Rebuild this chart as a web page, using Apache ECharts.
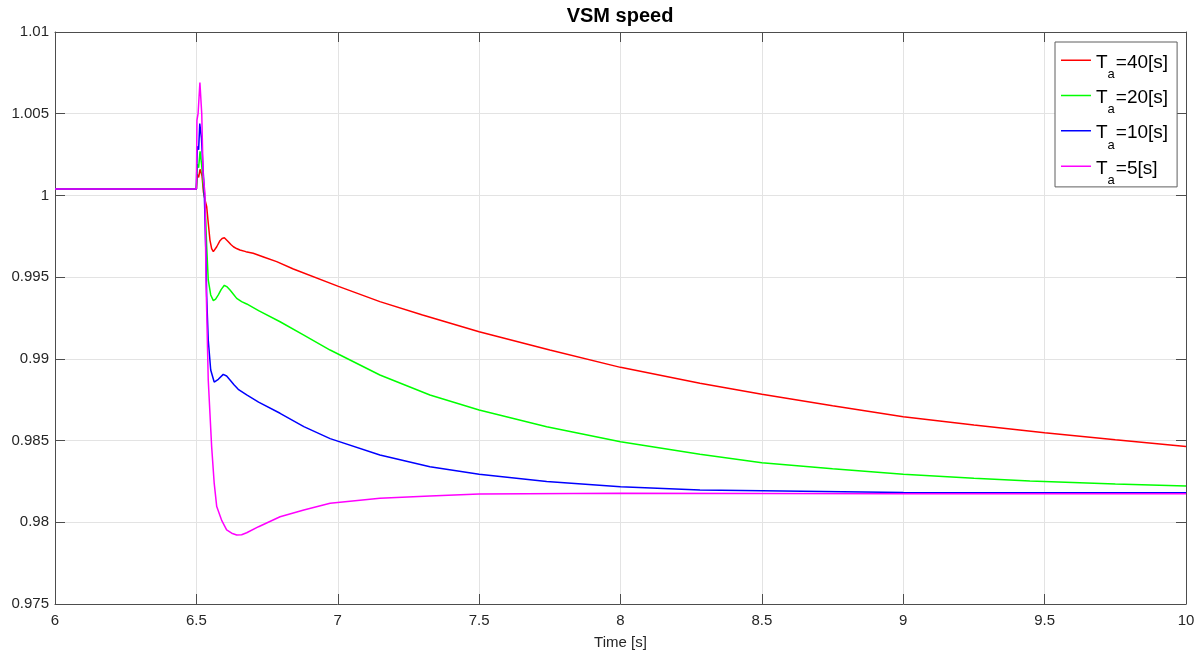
<!DOCTYPE html>
<html>
<head>
<meta charset="utf-8">
<title>VSM speed</title>
<script src="https://cdn.jsdelivr.net/npm/echarts@6/dist/echarts.min.js"></script>
<style>
  html, body { margin: 0; padding: 0; background: #fff; }
  #chart { width: 1204px; height: 653px; }
</style>
</head>
<body>
<div id="chart"></div>
<script>
// Virtual synchronous machine speed (p.u.) after a load step at t = 6.5 s,
// for four inertia constants Ta.
const seriesNames = ['40', '20', '10', '5'];
const seriesColors = ['#ff0000', '#00ff00', '#0000ff', '#ff00ff'];

const time40 = [6, 6.5, 6.503, 6.508, 6.513, 6.52, 6.525, 6.531, 6.5365, 6.542, 6.548, 6.554, 6.56, 6.566, 6.572,
  6.5835, 6.591, 6.599, 6.606, 6.613, 6.622, 6.631, 6.642, 6.654, 6.675, 6.701, 6.74, 6.784, 6.843,
  7.0, 7.149, 7.3, 7.5, 7.75, 8, 8.281, 8.5, 8.75, 9, 9.25, 9.5, 9.75, 10];
const speed40 = [1.0004, 1.0004, 1.0013, 1.0011, 1.0016, 1.0012, 1.0002, 0.9997, 0.99931, 0.99831, 0.99727, 0.99675, 0.99656, 0.99662, 0.99686,
  0.99723, 0.99736, 0.99741, 0.99733, 0.99717, 0.99700, 0.99686, 0.99675, 0.99666, 0.99656, 0.99646, 0.99622, 0.99595, 0.99550,
  0.99445, 0.99350, 0.99268, 0.99166, 0.99054, 0.98948, 0.98851, 0.98783, 0.98713, 0.98646, 0.98595, 0.98548, 0.98505, 0.98463];

const time20 = [6, 6.5, 6.503, 6.508, 6.513, 6.519, 6.525, 6.5305, 6.5365, 6.542, 6.5507, 6.56, 6.568, 6.5776, 6.588,
  6.599, 6.609, 6.619, 6.631, 6.6426, 6.66, 6.678, 6.72, 6.796, 6.88, 6.973, 7.149, 7.326, 7.5, 7.739, 8,
  8.281, 8.5, 8.75, 9, 9.25, 9.448, 9.75, 10];
const speed20 = [1.0004, 1.0004, 1.0019, 1.0017, 1.0027, 1.0018, 1.0005, 0.99972, 0.99686, 0.99483, 0.99391, 0.99356, 0.99365, 0.99391, 0.99425,
  0.99450, 0.99440, 0.99421, 0.99395, 0.99370, 0.99350, 0.99336, 0.99295, 0.99227, 0.99145, 0.99054, 0.98901, 0.98779, 0.98687, 0.98585, 0.98493,
  0.98416, 0.98365, 0.98327, 0.98294, 0.98270, 0.98253, 0.98235, 0.98222];

const time10 = [6, 6.5, 6.503, 6.508, 6.512, 6.518, 6.524, 6.5275, 6.533, 6.5365, 6.542, 6.5507, 6.563, 6.5776, 6.595,
  6.607, 6.619, 6.633, 6.648, 6.678, 6.72, 6.796, 6.88, 6.973,
  7.149, 7.326, 7.5, 7.739, 8, 8.281, 8.5, 9, 9.448, 10];
const speed10 = [1.0004, 1.0004, 1.0030, 1.0028, 1.0044, 1.0035, 1.0015, 1.00048, 0.99686, 0.99380, 0.99115, 0.98932, 0.98858, 0.98875, 0.98905,
  0.98895, 0.98871, 0.98842, 0.98814, 0.98779, 0.98735, 0.98667, 0.98585, 0.98512,
  0.98412, 0.98340, 0.98294, 0.98249, 0.98218, 0.98198, 0.98193, 0.98183, 0.98181, 0.98181];

const time5 = [6, 6.5, 6.502, 6.506, 6.5125, 6.519, 6.524, 6.5305, 6.534, 6.542, 6.554, 6.563, 6.572, 6.59, 6.607,
  6.625, 6.6426, 6.66, 6.678, 6.72, 6.796, 6.88, 6.973, 7.149, 7.326, 7.5, 8, 9, 10];
const speed5 = [1.0004, 1.0004, 1.0046, 1.0050, 1.0069, 1.0050, 1.0012, 1.00013, 0.99483, 0.98871, 0.98463, 0.98240, 0.98096, 0.98010, 0.97953,
  0.97933, 0.97922, 0.97924, 0.97936, 0.97973, 0.98034, 0.98075, 0.98116, 0.98147, 0.98161, 0.98173, 0.98177, 0.98175, 0.98175];

const seriesTimes = [time40, time20, time10, time5];
const seriesSpeeds = [speed40, speed20, speed10, speed5];

const FONT = "'Liberation Sans', Arial, Helvetica, sans-serif";
const TEXT = '#262626';
const AXIS = '#4d4d4d';
const GRIDLINE = '#e3e3e3';

const xMin = 6, xMax = 10, xStep = 0.5;
const yMin = 0.975, yMax = 1.01, yStep = 0.005;

const chart = echarts.init(document.getElementById('chart'), null, { renderer: 'canvas' });

// Box-style axes: every side gets a line and inward ticks.
function frameAxis(base, extra) {
  return Object.assign({
    type: 'value',
    axisLine: { show: true, onZero: false, lineStyle: { color: AXIS, width: 1 } },
    axisTick: { show: true, inside: true, length: 10, lineStyle: { color: AXIS, width: 1 } },
    splitLine: { show: false },
    axisLabel: { show: false }
  }, base, extra);
}

const xRange = { min: xMin, max: xMax, interval: xStep };
const yRange = { min: yMin, max: yMax, interval: yStep };

const option = {
  animation: false,
  backgroundColor: '#ffffff',
  title: {
    text: 'VSM speed',
    left: 620,
    top: 4,
    textAlign: 'center',
    padding: 0,
    textStyle: { fontFamily: FONT, fontSize: 20, fontWeight: 'bold', color: '#000', lineHeight: 24 }
  },
  grid: { left: 55, right: 18, top: 32, bottom: 49, containLabel: false, outerBoundsMode: 'none' },
  legend: {
    orient: 'vertical',
    left: 1055,
    top: 42,
    padding: [11, 9, 0, 6],
    itemGap: 7.3,
    itemWidth: 30,
    itemHeight: 7,
    icon: 'path://M0,0 H30 V1.5 H0 Z M0,7 H0.01 V7.01 H0 Z',
    backgroundColor: '#ffffff',
    borderColor: '#5f5f5f',
    borderWidth: 1,
    borderRadius: 0,
    data: seriesNames.map(n => 'Ta=' + n),
    formatter: name => '{m|T}{s|a}{m|=' + name.slice(3) + '[s]}',
    textStyle: {
      fontFamily: FONT,
      color: '#000',
      rich: {
        m: { fontFamily: FONT, fontSize: 19, lineHeight: 20, verticalAlign: 'top', color: '#000' },
        s: { fontFamily: FONT, fontSize: 13, lineHeight: 14, verticalAlign: 'top', padding: [15, 1, 0, 0], color: '#000' }
      }
    }
  },
  xAxis: [
    frameAxis(xRange, {
      position: 'bottom',
      name: 'Time [s]',
      nameLocation: 'middle',
      nameGap: 31,
      nameTextStyle: { fontFamily: FONT, fontSize: 15, color: TEXT, lineHeight: 16 },
      axisLabel: {
        show: true, margin: 9, fontFamily: FONT, fontSize: 15, color: TEXT, lineHeight: 16,
        formatter: v => String(+v.toFixed(1))
      },
      splitLine: { show: true, lineStyle: { color: GRIDLINE, width: 1 } }
    }),
    frameAxis(xRange, { position: 'top' })
  ],
  yAxis: [
    frameAxis(yRange, {
      position: 'left',
      axisLabel: {
        show: true, margin: 6, fontFamily: FONT, fontSize: 15, color: TEXT,
        formatter: v => String(+v.toFixed(3))
      },
      splitLine: { show: true, lineStyle: { color: GRIDLINE, width: 1 } }
    }),
    frameAxis(yRange, { position: 'right' })
  ],
  series: seriesNames.map((n, i) => ({
    name: 'Ta=' + n,
    type: 'line',
    xAxisIndex: 0,
    yAxisIndex: 0,
    showSymbol: false,
    symbol: 'none',
    smooth: false,
    color: seriesColors[i],
    lineStyle: { color: seriesColors[i], width: 1.5 },
    data: seriesTimes[i].map((t, k) => [t, seriesSpeeds[i][k]])
  }))
};

chart.setOption(option);
</script>
</body>
</html>
